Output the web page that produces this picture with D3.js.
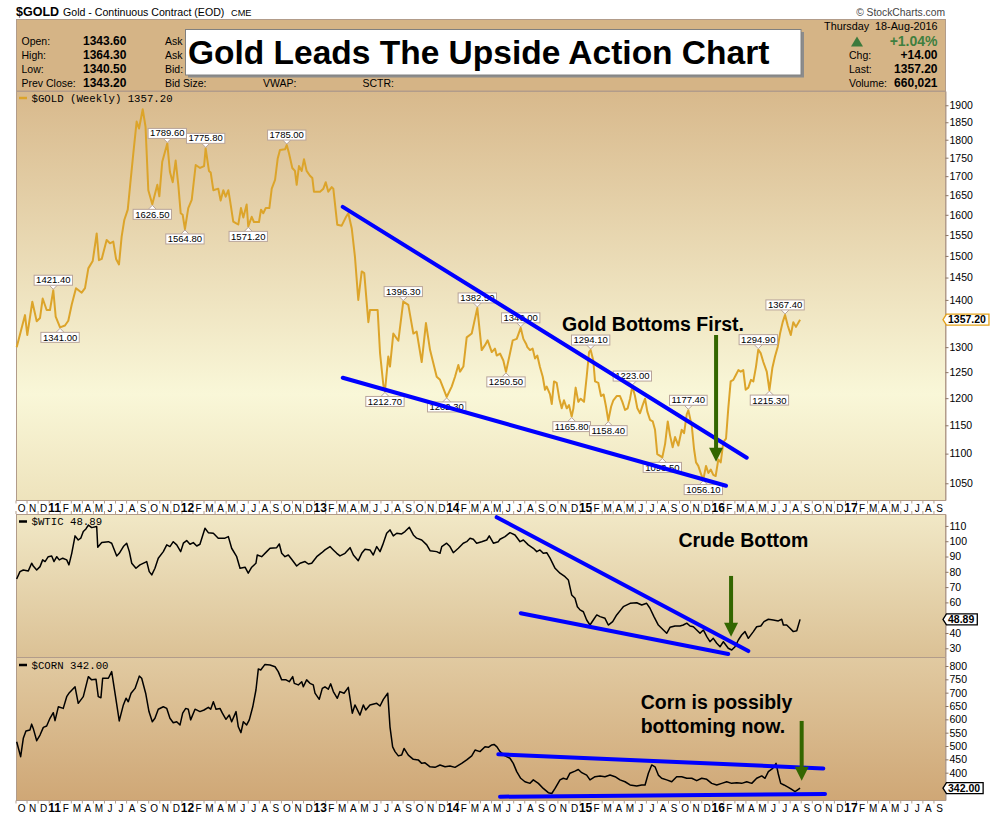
<!DOCTYPE html>
<html>
<head>
<meta charset="utf-8">
<script src="https://cdn.jsdelivr.net/npm/d3@7"></script>
<style>
  body { margin: 0; background: #fff; }
  svg { display: block; font-family: 'Liberation Sans', Arial, sans-serif; }
</style>
</head>
<body>
<svg id="chart" width="990" height="817"></svg>
<script>
// weekly closes, [decimal year, value]
const goldData = [[2010.755,1300],[2010.818,1367],[2010.835,1325],[2010.873,1396],[2010.906,1354],[2010.931,1361],[2010.951,1403],[2010.981,1378],[2011.006,1378],[2011.031,1421.4],[2011.049,1364],[2011.082,1341],[2011.119,1345],[2011.144,1355],[2011.170,1390],[2011.202,1426],[2011.245,1416],[2011.270,1426],[2011.295,1471],[2011.328,1488],[2011.358,1554],[2011.375,1490],[2011.396,1493],[2011.433,1538],[2011.458,1530],[2011.483,1534],[2011.504,1493],[2011.526,1480],[2011.546,1546],[2011.566,1587],[2011.592,1613],[2011.614,1690],[2011.634,1762],[2011.659,1852],[2011.677,1832],[2011.705,1888],[2011.726,1837],[2011.747,1663],[2011.777,1626.5],[2011.815,1677],[2011.830,1647],[2011.852,1739],[2011.890,1789.6],[2011.910,1711],[2011.931,1684],[2011.953,1742],[2011.973,1677],[2011.991,1604],[2012.006,1600],[2012.023,1564.8],[2012.048,1617],[2012.074,1638],[2012.104,1730],[2012.137,1722],[2012.167,1727],[2012.179,1775.8],[2012.204,1714],[2012.217,1710],[2012.237,1663],[2012.274,1667],[2012.292,1636],[2012.312,1663],[2012.330,1646],[2012.350,1663],[2012.363,1636],[2012.387,1583],[2012.413,1578],[2012.425,1576],[2012.445,1617],[2012.463,1593],[2012.488,1626],[2012.500,1571.2],[2012.526,1595],[2012.543,1582],[2012.581,1582],[2012.596,1613],[2012.613,1604],[2012.632,1617],[2012.659,1617],[2012.677,1667],[2012.702,1690],[2012.722,1748],[2012.739,1771],[2012.777,1773],[2012.790,1785],[2012.807,1762],[2012.832,1722],[2012.852,1714],[2012.865,1677],[2012.882,1727],[2012.903,1714],[2012.920,1746],[2012.940,1714],[2012.965,1701],[2012.983,1695],[2012.995,1659],[2013.041,1659],[2013.066,1667],[2013.084,1684],[2013.103,1659],[2013.129,1671],[2013.141,1667],[2013.171,1575],[2013.204,1573],[2013.234,1593],[2013.254,1604],[2013.280,1566],[2013.304,1498],[2013.329,1400],[2013.355,1464],[2013.374,1460],[2013.405,1352],[2013.417,1378],[2013.475,1378],[2013.493,1288],[2013.518,1225],[2013.530,1212.7],[2013.555,1281],[2013.568,1261],[2013.593,1328],[2013.631,1313],[2013.668,1396.3],[2013.706,1389],[2013.744,1328],[2013.769,1332],[2013.807,1270],[2013.839,1350],[2013.870,1294],[2013.920,1241],[2013.945,1235],[2013.965,1222],[2013.995,1202.3],[2014.033,1222],[2014.058,1241],[2014.083,1264],[2014.096,1251],[2014.121,1261],[2014.146,1320],[2014.184,1328],[2014.201,1350],[2014.226,1382.5],[2014.259,1294],[2014.284,1304],[2014.304,1314],[2014.335,1290],[2014.359,1297],[2014.372,1283],[2014.397,1287],[2014.422,1273],[2014.442,1250.5],[2014.472,1287],[2014.493,1314],[2014.523,1317],[2014.553,1340],[2014.573,1317],[2014.593,1307],[2014.603,1300],[2014.623,1294],[2014.643,1297],[2014.661,1277],[2014.678,1283],[2014.698,1260],[2014.719,1241],[2014.736,1216],[2014.749,1222],[2014.774,1207],[2014.787,1189],[2014.804,1232],[2014.824,1229],[2014.844,1199],[2014.862,1181],[2014.879,1196],[2014.900,1181],[2014.917,1187],[2014.937,1165.8],[2014.950,1181],[2014.967,1220],[2014.987,1193],[2015.005,1199],[2015.030,1193],[2015.050,1241],[2015.068,1290],[2015.080,1294.1],[2015.100,1273],[2015.113,1232],[2015.138,1229],[2015.158,1204],[2015.178,1207],[2015.196,1184],[2015.213,1158.4],[2015.234,1184],[2015.251,1196],[2015.276,1204],[2015.301,1204],[2015.319,1193],[2015.339,1178],[2015.359,1181],[2015.377,1199],[2015.394,1223],[2015.414,1204],[2015.432,1181],[2015.452,1172],[2015.472,1187],[2015.490,1199],[2015.507,1175],[2015.527,1160],[2015.548,1157],[2015.565,1142],[2015.582,1099],[2015.603,1096],[2015.620,1093.5],[2015.641,1117],[2015.661,1157],[2015.678,1132],[2015.698,1111],[2015.716,1129],[2015.741,1114],[2015.766,1142],[2015.784,1136],[2015.804,1170],[2015.816,1177.4],[2015.842,1149],[2015.859,1108],[2015.874,1085],[2015.891,1079],[2015.912,1065],[2015.929,1056.1],[2015.949,1079],[2015.967,1067],[2015.985,1073],[2016.004,1064],[2016.022,1062],[2016.042,1090],[2016.060,1085],[2016.080,1120],[2016.100,1126],[2016.117,1181],[2016.135,1232],[2016.155,1235],[2016.175,1245],[2016.193,1254],[2016.211,1251],[2016.230,1254],[2016.248,1216],[2016.268,1220],[2016.288,1235],[2016.306,1232],[2016.326,1261],[2016.343,1294.9],[2016.361,1288],[2016.381,1270],[2016.407,1251],[2016.427,1215.3],[2016.449,1258],[2016.469,1281],[2016.490,1301],[2016.507,1328],[2016.527,1352],[2016.545,1367.4],[2016.565,1345],[2016.588,1325],[2016.607,1352],[2016.627,1342],[2016.658,1357.2]]

const wticData = [[2010.755,75.3],[2010.780,80.1],[2010.805,81.2],[2010.843,80.6],[2010.868,85.6],[2010.880,83.8],[2010.906,81.2],[2010.931,83.4],[2010.951,87.8],[2010.969,86.7],[2010.993,89.9],[2011.019,90.4],[2011.036,86.7],[2011.057,89.9],[2011.076,87.8],[2011.102,88.9],[2011.132,87.8],[2011.149,84.5],[2011.170,92.1],[2011.195,103.5],[2011.219,100.8],[2011.238,102],[2011.257,106.3],[2011.277,108],[2011.295,110.6],[2011.320,108.9],[2011.358,109.6],[2011.366,96.1],[2011.396,99.1],[2011.446,99.7],[2011.471,98.7],[2011.509,90.4],[2011.528,92.1],[2011.559,96.5],[2011.584,98.7],[2011.604,93.2],[2011.622,85.6],[2011.654,82.3],[2011.684,84.5],[2011.735,86.7],[2011.754,80.1],[2011.773,78],[2011.797,82.3],[2011.822,88.9],[2011.860,93.2],[2011.886,97.6],[2011.910,96.5],[2011.935,99.7],[2011.961,97.6],[2011.991,93.2],[2012.011,98.7],[2012.036,100.4],[2012.061,98],[2012.086,99.1],[2012.112,96.9],[2012.136,98],[2012.174,108.5],[2012.199,105.6],[2012.237,105.2],[2012.274,102],[2012.325,102],[2012.350,103],[2012.375,95.4],[2012.413,89.9],[2012.438,82.3],[2012.476,83],[2012.500,79.1],[2012.526,83],[2012.558,85.6],[2012.568,91],[2012.601,89.9],[2012.639,93.2],[2012.664,95.4],[2012.714,95.8],[2012.734,98.2],[2012.752,92.1],[2012.777,89.9],[2012.802,91],[2012.827,88.2],[2012.865,83.8],[2012.890,85.6],[2012.928,86.7],[2012.953,85.1],[2012.978,85.6],[2013.016,89.9],[2013.054,92.5],[2013.078,94.3],[2013.116,96.5],[2013.141,94.3],[2013.167,92.1],[2013.191,90.4],[2013.229,92.1],[2013.267,95.8],[2013.292,91],[2013.329,87.3],[2013.355,92.1],[2013.380,94.8],[2013.417,94.3],[2013.442,91],[2013.468,96.5],[2013.493,93.2],[2013.513,97.6],[2013.543,105.2],[2013.568,107.4],[2013.593,103.5],[2013.619,105.2],[2013.656,104.8],[2013.681,106.3],[2013.714,109.1],[2013.744,104.1],[2013.769,102],[2013.807,100.8],[2013.845,97.6],[2013.870,93.8],[2013.920,93.2],[2013.945,92.1],[2013.958,96.5],[2013.995,98.7],[2014.020,96.5],[2014.045,92.5],[2014.083,95.4],[2014.120,98.7],[2014.146,99.7],[2014.171,102],[2014.196,101.3],[2014.221,98.7],[2014.259,99.7],[2014.297,100.8],[2014.316,103.5],[2014.347,98.7],[2014.384,99.7],[2014.397,101.3],[2014.435,103],[2014.472,105.6],[2014.510,104.1],[2014.548,99.7],[2014.573,100.8],[2014.610,97.6],[2014.648,95.4],[2014.674,93.2],[2014.698,94.3],[2014.723,92.1],[2014.749,92.5],[2014.774,88.9],[2014.812,82.3],[2014.849,79.1],[2014.887,76.8],[2014.912,74.7],[2014.937,64.9],[2014.962,62.7],[2014.980,57.2],[2015.000,55.1],[2015.025,53.9],[2015.050,48.5],[2015.075,45.2],[2015.100,48.5],[2015.126,51.8],[2015.151,50.7],[2015.188,49.6],[2015.213,45.2],[2015.246,47.4],[2015.276,51.8],[2015.307,55.1],[2015.326,57.2],[2015.377,59.4],[2015.427,59.8],[2015.465,58.3],[2015.502,59.4],[2015.527,56.2],[2015.557,50.7],[2015.590,45.2],[2015.628,42],[2015.653,39.8],[2015.678,43.7],[2015.716,44.6],[2015.753,44.6],[2015.778,45.2],[2015.804,46.4],[2015.829,44.6],[2015.854,44.1],[2015.879,42],[2015.904,39.8],[2015.929,42],[2015.955,37.6],[2015.979,34.3],[2016.004,36.5],[2016.030,33.3],[2016.055,31],[2016.080,34.3],[2016.117,30],[2016.143,28.9],[2016.168,31],[2016.193,35.4],[2016.218,38.7],[2016.243,40.9],[2016.268,36.5],[2016.306,40.9],[2016.331,44.1],[2016.362,44.6],[2016.386,47.4],[2016.419,49],[2016.456,48.5],[2016.494,47.9],[2016.520,49],[2016.532,45.2],[2016.557,45.2],[2016.582,43.1],[2016.607,40.9],[2016.633,41.5],[2016.658,48.89]]

const cornData = [[2010.755,516],[2010.785,460],[2010.805,529],[2010.825,556],[2010.855,560],[2010.868,582],[2010.880,566],[2010.906,520],[2010.931,541],[2010.956,570],[2010.981,575],[2011.006,604],[2011.031,625],[2011.044,595],[2011.069,647],[2011.106,641],[2011.132,685],[2011.152,700],[2011.195,722],[2011.219,660],[2011.257,685],[2011.295,760],[2011.320,748],[2011.353,750],[2011.370,685],[2011.390,681],[2011.403,754],[2011.446,754],[2011.471,779],[2011.496,698],[2011.528,594],[2011.559,654],[2011.579,679],[2011.596,666],[2011.617,698],[2011.647,716],[2011.679,762],[2011.697,754],[2011.727,698],[2011.752,629],[2011.777,591],[2011.797,604],[2011.822,638],[2011.860,647],[2011.886,641],[2011.910,604],[2011.935,587],[2011.961,591],[2011.986,579],[2012.006,623],[2012.029,641],[2012.048,638],[2012.066,598],[2012.099,638],[2012.136,629],[2012.167,635],[2012.199,645],[2012.217,638],[2012.237,666],[2012.257,638],[2012.287,641],[2012.305,623],[2012.332,600],[2012.357,616],[2012.375,591],[2012.408,629],[2012.425,572],[2012.445,550],[2012.463,591],[2012.488,579],[2012.508,598],[2012.534,647],[2012.558,710],[2012.576,789],[2012.594,785],[2012.626,806],[2012.664,804],[2012.702,797],[2012.726,779],[2012.752,748],[2012.785,748],[2012.809,741],[2012.835,760],[2012.847,735],[2012.877,729],[2012.903,741],[2012.915,722],[2012.940,748],[2012.965,735],[2012.990,729],[2013.003,698],[2013.035,675],[2013.058,716],[2013.078,722],[2013.103,713],[2013.121,733],[2013.141,704],[2013.171,679],[2013.191,704],[2013.222,698],[2013.254,720],[2013.284,623],[2013.304,654],[2013.342,616],[2013.367,654],[2013.385,635],[2013.417,654],[2013.468,660],[2013.493,650],[2013.518,675],[2013.551,698],[2013.568,572],[2013.588,497],[2013.606,479],[2013.631,463],[2013.656,466],[2013.674,491],[2013.706,466],[2013.744,450],[2013.781,448],[2013.807,435],[2013.832,437],[2013.870,422],[2013.907,420],[2013.945,429],[2013.983,422],[2014.020,425],[2014.058,420],[2014.108,435],[2014.146,448],[2014.184,463],[2014.209,485],[2014.246,479],[2014.284,497],[2014.309,495],[2014.335,504],[2014.352,506],[2014.374,497],[2014.397,479],[2014.435,463],[2014.472,454],[2014.497,435],[2014.523,404],[2014.553,379],[2014.585,366],[2014.623,360],[2014.648,373],[2014.686,360],[2014.723,341],[2014.761,325],[2014.787,322],[2014.812,341],[2014.849,373],[2014.874,379],[2014.900,375],[2014.924,398],[2014.962,406],[2014.987,412],[2015.013,400],[2015.050,391],[2015.075,373],[2015.113,385],[2015.151,388],[2015.188,385],[2015.226,391],[2015.264,385],[2015.301,373],[2015.339,366],[2015.377,354],[2015.427,350],[2015.465,354],[2015.490,354],[2015.515,398],[2015.540,429],[2015.565,422],[2015.590,391],[2015.615,379],[2015.653,373],[2015.691,366],[2015.728,385],[2015.766,385],[2015.804,379],[2015.842,379],[2015.879,370],[2015.917,379],[2015.955,375],[2015.992,360],[2016.030,354],[2016.068,360],[2016.105,366],[2016.143,360],[2016.181,362],[2016.218,360],[2016.256,366],[2016.294,360],[2016.331,379],[2016.369,388],[2016.394,379],[2016.419,404],[2016.452,416],[2016.477,435],[2016.494,395],[2016.512,360],[2016.537,354],[2016.570,345],[2016.595,337],[2016.620,329],[2016.637,335],[2016.658,342]]

// annotated swing points on the gold line
const goldPeaks = [[2011.031,1421.4],[2011.890,1789.6],[2012.179,1775.8],[2012.790,1785],[2013.668,1396.3],[2014.226,1382.5],[2014.553,1340],[2015.080,1294.1],[2015.394,1223],[2015.816,1177.4],[2016.343,1294.9],[2016.545,1367.4]]
const goldTroughs = [[2011.082,1341],[2011.777,1626.5],[2012.023,1564.8],[2012.500,1571.2],[2013.530,1212.7],[2013.995,1202.3],[2014.442,1250.5],[2014.937,1165.8],[2015.213,1158.4],[2015.620,1093.5],[2015.929,1056.1],[2016.427,1215.3]]

// hand drawn trend lines and arrows, in data units
const goldTrend = [[[2013.212,1620],[2016.256,1093]],[[2013.212,1239],[2016.100,1046]]]
const wticTrend = [[[2014.372,115.7],[2016.268,28.2]],[[2014.553,52.9],[2016.117,26.3]]]
const cornTrend = [[[2014.384,469],[2016.833,416]],[[2014.397,310],[2016.846,320]]]
const goldArrow = [2016.025, 1325, 1086]
const wticArrow = [2016.138, 77.3, 37.6]
const cornArrow = [2016.670, 594, 370]

const goldTicks = [1050, 1100, 1150, 1200, 1250, 1300, 1400, 1450, 1500, 1550, 1600, 1650, 1700, 1750, 1800, 1850, 1900]
const wticTicks = [30, 40, 60, 70, 80, 90, 100, 110]
const cornTicks = [400, 450, 500, 550, 600, 650, 700, 750, 800]
const monthLetters = ['J', 'F', 'M', 'A', 'M', 'J', 'J', 'A', 'S', 'O', 'N', 'D']

const quoteLeft = [['Open:', '1343.60'], ['High:', '1364.30'], ['Low:', '1340.50'], ['Prev Close:', '1343.20']]
// the title box hides the rest of the first two
const quoteMid = ['Ask', 'Ask', 'Bid:', 'Bid Size:']
const quoteRight = [['Chg:', '+14.00'], ['Last:', '1357.20'], ['Volume:', '660,021']]

const svg = d3.select('#chart')
const frame = '#b29c8a'
const L = 16
const R = 945

const x = d3.scaleLinear().domain([2010.75, 2017.75]).range([L, R])
const goldY = d3.scaleLog().domain([1022.8, 1943]).range([500, 91])
const wticY = d3.scaleLinear().domain([24.3, 117.8]).range([657, 514])
const cornY = d3.scaleLinear().domain([297.6, 833.7]).range([800, 657])

// backgrounds
const defs = svg.append('defs')
function addGradient (id, stops) {
  const lg = defs.append('linearGradient').attr('id', id)
    .attr('x1', 0).attr('y1', 0).attr('x2', 0).attr('y2', 1)
  stops.forEach(s => lg.append('stop').attr('offset', s[0]).attr('stop-color', s[1]))
}
addGradient('gGold', [[0, '#d8b98c'], [0.74, '#f9f7d8'], [1, '#eee3bc']])
addGradient('gWtic', [[0, '#f1e8c6'], [1, '#dbc195']])
addGradient('gCorn', [[0, '#e1caa1'], [1, '#cfa776']])

const panels = [
  { y0: 91, y1: 500, fill: 'url(#gGold)' },
  { y0: 514, y1: 657, fill: 'url(#gWtic)' },
  { y0: 657, y1: 800, fill: 'url(#gCorn)' }
]
svg.append('g').selectAll('rect').data(panels).join('rect')
  .attr('x', L + 0.5).attr('y', d => d.y0 + 0.5)
  .attr('width', R - L).attr('height', d => d.y1 - d.y0)
  .attr('fill', d => d.fill).attr('stroke', frame)

// header block
svg.append('text').attr('x', 16).attr('y', 16).attr('font-size', 12.5).attr('font-weight', 'bold').text('$GOLD')
svg.append('text').attr('x', 63).attr('y', 15.5).attr('font-size', 10.6).text('Gold - Continuous Contract (EOD)')
svg.append('text').attr('x', 231).attr('y', 15.5).attr('font-size', 9.2).text('CME')
svg.append('text').attr('x', R).attr('y', 15.5).attr('font-size', 10.3).attr('fill', '#444')
  .attr('text-anchor', 'end').text('\u00a9 StockCharts.com')

svg.append('rect').attr('x', L + 0.5).attr('y', 19.5).attr('width', R - L).attr('height', 71.5)
  .attr('fill', '#d5b486').attr('stroke', frame)

const rowY = [44.5, 58.5, 72.5, 86.5]
const head = svg.append('g').attr('font-size', 10.5)
quoteLeft.forEach((q, i) => {
  head.append('text').attr('x', 21.5).attr('y', rowY[i]).text(q[0])
  head.append('text').attr('x', 83).attr('y', rowY[i] + 0.5).attr('font-size', 12).attr('font-weight', 'bold').text(q[1])
})
quoteMid.forEach((q, i) => head.append('text').attr('x', 165).attr('y', rowY[i]).text(q))
head.append('text').attr('x', 263).attr('y', rowY[3]).text('VWAP:')
head.append('text').attr('x', 362.5).attr('y', rowY[3]).text('SCTR:')
head.append('text').attr('x', 937.5).attr('y', 29.5).attr('text-anchor', 'end').attr('font-size', 10.8)
  .attr('xml:space', 'preserve').text('Thursday  18-Aug-2016')
head.append('path').attr('d', 'M851,46.5 L857,36.5 L863,46.5 Z').attr('fill', '#3c7a3c')
head.append('text').attr('x', 937.5).attr('y', 46).attr('text-anchor', 'end').attr('font-size', 14)
  .attr('font-weight', 'bold').attr('fill', '#3f7f3f').text('+1.04%')
quoteRight.forEach((q, i) => {
  head.append('text').attr('x', 849).attr('y', rowY[i + 1]).text(q[0])
  head.append('text').attr('x', 937.5).attr('y', rowY[i + 1] + 0.5).attr('text-anchor', 'end')
    .attr('font-size', 12).attr('font-weight', 'bold').text(q[1])
})

// title box
svg.append('rect').attr('x', 188).attr('y', 32).attr('width', 616).attr('height', 45.5).attr('fill', '#8c8c8c')
svg.append('rect').attr('x', 185.5).attr('y', 29.5).attr('width', 615.5).attr('height', 45.5)
  .attr('fill', '#fff').attr('stroke', '#808080')
svg.append('text').attr('x', 188).attr('y', 63.5).attr('font-size', 33.5).attr('font-weight', 'bold')
  .text('Gold Leads The Upside Action Chart')

// month bands
svg.append('rect').attr('x', L).attr('y', 501).attr('width', R - L).attr('height', 13).attr('fill', '#fff')
const months = []
for (let yr = 2010; yr <= 2017; yr++) {
  for (let m = 0; m < 12; m++) {
    const t = yr + m / 12
    if (t > 2010.74 && t < 2017.74) months.push({ yr, m, t })
  }
}
function monthAxis (yTop, yBase, ticksUp) {
  const g = svg.append('g')
  g.selectAll('line.top').data(months).join('line')
    .attr('x1', d => x(d.t)).attr('x2', d => x(d.t))
    .attr('y1', yTop).attr('y2', yTop + 3).attr('stroke', frame)
  if (ticksUp) {
    g.selectAll('line.bot').data(months).join('line')
      .attr('x1', d => x(d.t)).attr('x2', d => x(d.t))
      .attr('y1', ticksUp - 3).attr('y2', ticksUp).attr('stroke', frame)
  }
  g.selectAll('text').data(months).join('text')
    .attr('x', d => x(d.t + 1 / 24)).attr('y', yBase)
    .attr('text-anchor', 'middle')
    .attr('font-size', d => d.m === 0 ? 12 : 10)
    .attr('font-weight', d => d.m === 0 ? 'bold' : 'normal')
    .text(d => d.m === 0 ? String(d.yr).slice(2) : monthLetters[d.m])
}
monthAxis(500.5, 512, 514)
monthAxis(800.5, 811.5, 0)

// right axes
function rightAxis (scale, ticks, minor) {
  const g = svg.append('g').attr('transform', `translate(${R + 0.5},0)`)
  g.call(d3.axisRight(scale).tickValues(minor).tickSize(2).tickSizeOuter(0).tickFormat(''))
  g.call(d3.axisRight(scale).tickValues(ticks).tickSize(3).tickPadding(1).tickSizeOuter(0).tickFormat(d3.format('d')))
  g.selectAll('.domain').attr('stroke', frame)
  g.selectAll('line').attr('stroke', '#8a7464')
  g.selectAll('text').attr('font-size', 10.5).attr('font-family', "'Liberation Sans', Arial, sans-serif").attr('fill', '#000')
}
rightAxis(goldY, goldTicks, d3.range(1025, 1940, 25))
rightAxis(wticY, wticTicks, d3.range(25, 118, 5))
rightAxis(cornY, cornTicks, d3.range(300, 834, 25))

// series
const goldLine = d3.line().x(d => x(d[0])).y(d => goldY(d[1]))
const wticLine = d3.line().x(d => x(d[0])).y(d => wticY(d[1]))
const cornLine = d3.line().x(d => x(d[0])).y(d => cornY(d[1]))
svg.append('path').datum(goldData).attr('d', goldLine).attr('fill', 'none')
  .attr('stroke', '#dca42a').attr('stroke-width', 2).attr('stroke-linejoin', 'round')
svg.append('path').datum(wticData).attr('d', wticLine).attr('fill', 'none')
  .attr('stroke', '#000').attr('stroke-width', 1.5).attr('stroke-linejoin', 'round')
svg.append('path').datum(cornData).attr('d', cornLine).attr('fill', 'none')
  .attr('stroke', '#000').attr('stroke-width', 1.5).attr('stroke-linejoin', 'round')

// swing labels
function swingLabels (data, up) {
  const s = up ? -1 : 1
  const g = svg.append('g').selectAll('g').data(data).join('g')
    .attr('transform', d => `translate(${x(d[0])},${goldY(d[1])})`)
  g.append('path')
    .attr('d', `M-4,${5 * s} L0,${1 * s} L4,${5 * s}`)
    .attr('fill', '#fff').attr('stroke', '#b8a49a')
  const txt = g.append('text').attr('y', up ? -7 : 13.5).attr('text-anchor', 'middle')
    .attr('font-size', 9.5).text(d => d[1].toFixed(2))
  txt.each(function () {
    const w = this.getComputedTextLength() + 4
    d3.select(this.parentNode).insert('rect', 'text')
      .attr('x', -w / 2).attr('y', up ? -15 : 5).attr('width', w).attr('height', 10)
      .attr('fill', '#fff').attr('stroke', '#b8a49a')
  })
}
swingLabels(goldPeaks, true)
swingLabels(goldTroughs, false)

// trend lines
function trend (lines, scale) {
  svg.append('g').selectAll('line').data(lines).join('line')
    .attr('x1', d => x(d[0][0])).attr('y1', d => scale(d[0][1]))
    .attr('x2', d => x(d[1][0])).attr('y2', d => scale(d[1][1]))
    .attr('stroke', '#0000ff').attr('stroke-width', 4).attr('stroke-linecap', 'round')
}
trend(goldTrend, goldY)
trend(wticTrend, wticY)
trend(cornTrend, cornY)

function arrow (a, scale) {
  const ax = x(a[0])
  const y0 = scale(a[1])
  const y1 = scale(a[2])
  svg.append('line').attr('x1', ax).attr('x2', ax).attr('y1', y0).attr('y2', y1 - 10)
    .attr('stroke', '#336600').attr('stroke-width', 4)
  svg.append('path').attr('d', `M${ax - 7},${y1 - 14} L${ax + 7},${y1 - 14} L${ax},${y1} Z`).attr('fill', '#336600')
}
arrow(goldArrow, goldY)
arrow(wticArrow, wticY)
arrow(cornArrow, cornY)

// notes
const note = svg.append('g').attr('font-size', 19.5).attr('font-weight', 'bold')
note.append('text').attr('x', x(2014.864)).attr('y', goldY(1333)).text('Gold Bottoms First.')
note.append('text').attr('x', x(2015.741)).attr('y', wticY(96.5)).text('Crude Bottom')
note.append('text').attr('x', x(2015.457)).attr('y', cornY(637.6)).text('Corn is possibly')
note.append('text').attr('x', x(2015.457)).attr('y', cornY(547.6)).text('bottoming now.')

// legends
function legend (yBase, color, label) {
  svg.append('line').attr('x1', 19).attr('x2', 27).attr('y1', yBase - 3.5).attr('y2', yBase - 3.5)
    .attr('stroke', color).attr('stroke-width', 2.5)
  svg.append('text').attr('x', 31.5).attr('y', yBase).attr('font-family', "'Liberation Mono', 'DejaVu Sans Mono', monospace")
    .attr('font-size', 10.7).attr('xml:space', 'preserve').text(label)
}
legend(101.5, '#dca42a', '$GOLD (Weekly) 1357.20')
legend(525, '#000', '$WTIC 48.89')
legend(668.5, '#000', '$CORN 342.00')

// last value tags
function priceTag (yPos, label, color) {
  const g = svg.append('g').attr('transform', `translate(${R - 2},${yPos})`)
  const t = g.append('text').attr('x', 5).attr('dy', '0.36em').attr('font-size', 10.5)
    .attr('font-weight', 'bold').text(label)
  const w = t.node().getComputedTextLength() + 4
  g.insert('path', 'text').attr('d', `M0,0 L3.5,-5.5 H${w + 4} V5.5 H3.5 Z`)
    .attr('fill', '#fff').attr('stroke', color).attr('stroke-width', 1.3)
}
priceTag(goldY(1357.2), '1357.20', '#e3a21a')
priceTag(wticY(48.89), '48.89', '#000')
priceTag(cornY(342), '342.00', '#000')
</script>
</body>
</html>
